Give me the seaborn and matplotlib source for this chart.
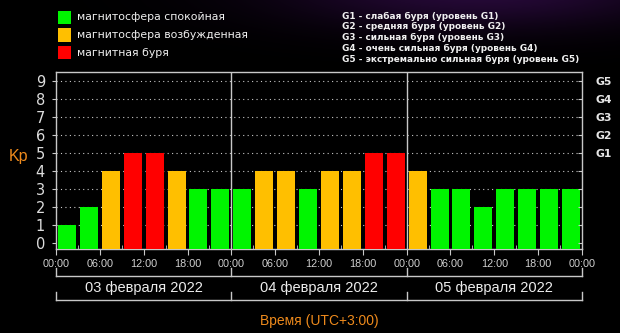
import numpy as np
import pandas as pd
import matplotlib
matplotlib.use("Agg")
import matplotlib.pyplot as plt
from matplotlib.patches import Rectangle
import seaborn as sns

# ---------------- data ----------------
days = ["03 февраля 2022", "04 февраля 2022", "05 февраля 2022"]
hour_labels = ["00:00", "06:00", "12:00", "18:00"]
kp_values = [1, 2, 4, 5, 5, 4, 3, 3,
             3, 4, 4, 3, 4, 4, 5, 5,
             4, 3, 3, 2, 3, 3, 3, 3]
level_names = ["магнитосфера спокойная", "магнитосфера возбужденная", "магнитная буря"]
level_colors = ["#00f500", "#ffbf00", "#ff0000"]
g_labels = ["G1", "G2", "G3", "G4", "G5"]
g_descr = ["G1 - слабая буря (уровень G1)",
           "G2 - средняя буря (уровень G2)",
           "G3 - сильная буря (уровень G3)",
           "G4 - очень сильная буря (уровень G4)",
           "G5 - экстремально сильная буря (уровень G5)"]
y_ticks = list(range(10))
xlabel = "Время (UTC+3:00)"
ylabel = "Kp"

def level_of(v):
    if v >= 5:
        return level_names[2]
    if v >= 4:
        return level_names[1]
    return level_names[0]

df = pd.DataFrame({
    "slot": list(range(len(kp_values))),
    "kp": kp_values,
    "level": [level_of(v) for v in kp_values],
})

# ---------------- figure ----------------
W, H = 620, 333
fig = plt.figure(figsize=(W / 100, H / 100), dpi=100, facecolor="black")

# subtle purple haze at the top (background decoration)
bg = fig.add_axes([0, 0, 1, 1], zorder=-10)
yy, xx = np.mgrid[0:H, 0:W]
d = ((xx - 480) / 200.0) ** 2 + ((yy + 10) / 38.0) ** 2
glow = np.exp(-d)[..., None] * np.array([0.15, 0.035, 0.22])[None, None, :]
bg.imshow(np.clip(glow, 0, 1), extent=[0, W, H, 0], aspect="auto")
bg.set_axis_off()

def fx(px):
    return px / W

def fy(py):
    return 1 - py / H

ax_left, ax_right, ax_top, ax_bot = 56, 582, 72, 249
ax = fig.add_axes([fx(ax_left), fy(ax_bot), fx(ax_right - ax_left), (ax_bot - ax_top) / H])
ax.set_facecolor("black")

ymin, ymax = -0.33, 9.5
palette = dict(zip(level_names, level_colors))
sns.barplot(data=df, x="slot", y="kp", hue="level", palette=palette, dodge=False,
            width=0.82, saturation=1, legend=False, linewidth=0, ax=ax, zorder=3)
# extend bars down to the bottom of the plotting area
for p in ax.patches:
    h = p.get_height()
    if h > 0:
        p.set_y(ymin)
        p.set_height(h - ymin)

n = len(kp_values)
ax.set_xlim(-0.5, n - 0.5)
ax.set_ylim(ymin, ymax)

# grid
for v in y_ticks[1:]:
    ax.axhline(v, color="#c8c8c8", lw=0.8, ls=(0, (1, 3)), zorder=1)
for b in [7.5, 15.5]:
    ax.axvline(b, color="#c8c8c8", lw=1.0, zorder=4)

# spines
for s in ax.spines.values():
    s.set_color("#c8c8c8")
    s.set_linewidth(1.0)

# x ticks
major_pos = np.arange(-0.5, n, 2)
ax.set_xticks(major_pos)
ax.set_xticklabels((hour_labels * len(days) + ["00:00"]),
                   fontfamily="Liberation Sans", fontsize=7.8, color="#cfcfcf")
ax.set_xticks(np.arange(-0.5, n, 1), minor=True)
ax.tick_params(axis="x", which="major", length=4, direction="out", color="#c8c8c8", pad=3)
ax.tick_params(axis="x", which="minor", length=3, direction="in", color="#c8c8c8")
ax.set_xlabel("")
ax.set_ylabel("")

# y ticks
ax.set_yticks(y_ticks)
ax.set_yticklabels([str(v) for v in y_ticks], fontfamily="DejaVu Sans", fontsize=10.5,
                   color="#dcdcdc")
ax.tick_params(axis="y", length=3, direction="out", color="#c8c8c8", pad=5)

# right axis with G levels
ax2 = ax.twinx()
ax2.set_ylim(ymin, ymax)
ax2.set_yticks(y_ticks)
ax2.set_yticklabels([""] * 5 + g_labels, fontfamily="DejaVu Sans", fontsize=7.8,
                    fontweight="bold", color="#e6e6e6")
ax2.tick_params(axis="y", length=3, direction="in", color="#c8c8c8", pad=10)
for s in ax2.spines.values():
    s.set_visible(False)

# day brackets below the axis
trans = ax.get_xaxis_transform()

def ay(py):
    return (ax_bot - py) / (ax_bot - ax_top)

bounds = [-0.5, 7.5, 15.5, n - 0.5]
lc = "#c8c8c8"
ax.plot([bounds[0], bounds[-1]], [ay(276), ay(276)], transform=trans, color=lc, lw=1, clip_on=False)
ax.plot([bounds[0], bounds[-1]], [ay(300), ay(300)], transform=trans, color=lc, lw=1, clip_on=False)
for b in bounds:
    ax.plot([b, b], [ay(268), ay(276)], transform=trans, color=lc, lw=1, clip_on=False)
    ax.plot([b, b], [ay(292), ay(300)], transform=trans, color=lc, lw=1, clip_on=False)
for i, dname in enumerate(days):
    ax.text(3.5 + 8 * i, ay(288), dname, transform=trans, ha="center", va="center",
            fontfamily="Liberation Sans", fontsize=10.5, color="#ececec")

orange = "#ee8a1c"
fig.text(fx((ax_left + ax_right) / 2), fy(321), xlabel, ha="center", va="center",
         fontfamily="Liberation Sans", fontsize=10, color=orange)
fig.text(fx(18), fy(156), ylabel, ha="center", va="center",
         fontfamily="Liberation Sans", fontsize=11.5, color=orange)

# legend (left)
for i, (name, col) in enumerate(zip(level_names, level_colors)):
    yc = 17.5 + 17.5 * i
    fig.add_artist(Rectangle((fx(58), fy(yc + 6.5)), 13 / W, 13 / H,
                             transform=fig.transFigure, color=col, lw=0))
    fig.text(fx(77), fy(yc), name, ha="left", va="center",
             fontfamily="DejaVu Sans", fontsize=7.8, color="#f0f0f0")

# legend (right)
for i, t in enumerate(g_descr):
    fig.text(fx(342), fy(16 + 10.9 * i), t, ha="left", va="center",
             fontfamily="DejaVu Sans", fontsize=6.4, fontweight="bold", color="#f0f0f0")

fig.savefig("out.png", dpi=100, facecolor="black")
